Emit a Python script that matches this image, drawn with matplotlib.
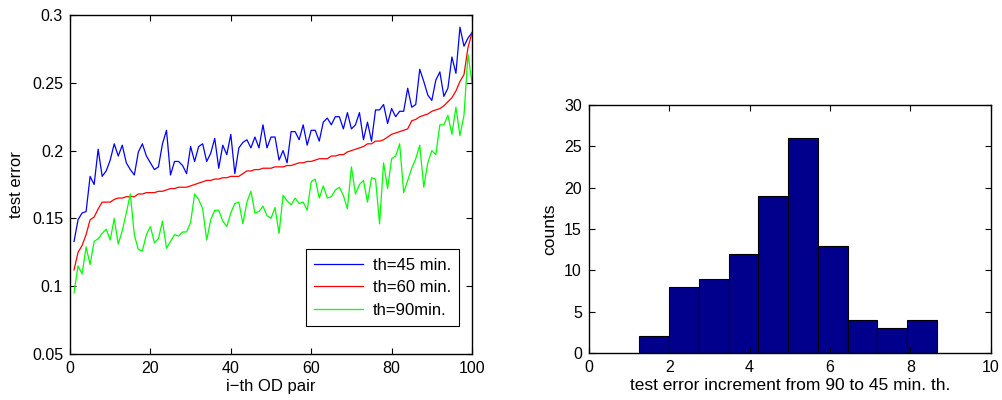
import numpy as np
import matplotlib
matplotlib.use("Agg")
import matplotlib.pyplot as plt

plt.rcParams['font.family'] = ['Liberation Sans', 'DejaVu Sans']

# test error per OD pair (left panel)
pair_idx = np.arange(1, 101)
err_45 = [0.133, 0.149, 0.154, 0.155, 0.181, 0.175, 0.201, 0.181, 0.185, 0.193,
          0.205, 0.196, 0.204, 0.191, 0.186, 0.182, 0.199, 0.205, 0.196, 0.191,
          0.186, 0.188, 0.205, 0.215, 0.182, 0.192, 0.192, 0.189, 0.183, 0.203,
          0.192, 0.203, 0.205, 0.192, 0.198, 0.209, 0.187, 0.204, 0.197, 0.212,
          0.183, 0.202, 0.206, 0.208, 0.202, 0.210, 0.202, 0.219, 0.202, 0.210,
          0.210, 0.193, 0.200, 0.191, 0.214, 0.214, 0.208, 0.219, 0.204, 0.215,
          0.215, 0.207, 0.221, 0.224, 0.219, 0.225, 0.225, 0.216, 0.228, 0.216,
          0.219, 0.228, 0.208, 0.221, 0.207, 0.230, 0.230, 0.234, 0.220, 0.231,
          0.225, 0.229, 0.229, 0.246, 0.232, 0.234, 0.260, 0.251, 0.241, 0.237,
          0.252, 0.258, 0.240, 0.246, 0.269, 0.257, 0.291, 0.277, 0.283, 0.287]
err_60 = [0.112, 0.125, 0.130, 0.138, 0.149, 0.151, 0.157, 0.162, 0.162, 0.162,
          0.164, 0.165, 0.165, 0.166, 0.166, 0.166, 0.168, 0.168, 0.169, 0.169,
          0.169, 0.170, 0.170, 0.171, 0.172, 0.172, 0.173, 0.173, 0.173, 0.174,
          0.175, 0.176, 0.177, 0.178, 0.178, 0.179, 0.179, 0.180, 0.180, 0.181,
          0.181, 0.181, 0.183, 0.185, 0.185, 0.186, 0.186, 0.187, 0.187, 0.187,
          0.188, 0.188, 0.188, 0.189, 0.189, 0.190, 0.191, 0.191, 0.192, 0.192,
          0.193, 0.194, 0.194, 0.194, 0.196, 0.196, 0.197, 0.197, 0.199, 0.200,
          0.201, 0.202, 0.203, 0.205, 0.205, 0.207, 0.207, 0.208, 0.210, 0.212,
          0.213, 0.214, 0.215, 0.216, 0.222, 0.223, 0.225, 0.226, 0.227, 0.229,
          0.230, 0.231, 0.233, 0.236, 0.239, 0.244, 0.251, 0.256, 0.276, 0.287]
err_90 = [0.095, 0.115, 0.109, 0.129, 0.116, 0.133, 0.135, 0.139, 0.142, 0.134,
          0.150, 0.131, 0.141, 0.154, 0.168, 0.138, 0.127, 0.126, 0.138, 0.144,
          0.132, 0.135, 0.148, 0.128, 0.133, 0.138, 0.137, 0.140, 0.140, 0.147,
          0.168, 0.164, 0.157, 0.134, 0.149, 0.156, 0.156, 0.148, 0.144, 0.154,
          0.161, 0.162, 0.146, 0.162, 0.170, 0.154, 0.155, 0.159, 0.152, 0.150,
          0.158, 0.139, 0.167, 0.163, 0.160, 0.165, 0.161, 0.162, 0.156, 0.177,
          0.179, 0.165, 0.174, 0.165, 0.166, 0.171, 0.173, 0.167, 0.157, 0.188,
          0.168, 0.175, 0.178, 0.162, 0.180, 0.179, 0.146, 0.191, 0.172, 0.194,
          0.196, 0.205, 0.169, 0.178, 0.187, 0.194, 0.204, 0.173, 0.191, 0.200,
          0.197, 0.219, 0.219, 0.226, 0.212, 0.232, 0.211, 0.226, 0.271, 0.250]

# histogram of error increment (right panel)
bin_edges = [1.25, 1.99, 2.73, 3.48, 4.22, 4.96, 5.70, 6.44, 7.18, 7.92, 8.66]
bin_counts = [2, 8, 9, 12, 19, 26, 13, 4, 3, 4]

fig = plt.figure(figsize=(10.03, 4), dpi=100)
ax1 = fig.add_axes([0.0698, 0.115, 0.4008, 0.8475])
ax2 = fig.add_axes([0.587, 0.1175, 0.4008, 0.62])

ax1.plot(pair_idx, err_45, color=(0, 0, 1), lw=0.9, label='th=45 min.')
ax1.plot(pair_idx, err_60, color=(1, 0, 0), lw=0.9, label='th=60 min.')
ax1.plot(pair_idx, err_90, color=(0, 1, 0), lw=0.9, label='th=90min.')
ax1.set_xlim(0, 100)
ax1.set_ylim(0.05, 0.3)
ax1.set_xticks([0, 20, 40, 60, 80, 100])
ax1.set_yticks([0.05, 0.1, 0.15, 0.2, 0.25, 0.3])
ax1.set_yticklabels(['0.05', '0.1', '0.15', '0.2', '0.25', '0.3'])
ax1.set_xlabel('i\u2212th OD pair', fontsize=12, labelpad=2)
ax1.set_ylabel('test error', fontsize=12, labelpad=6)
leg = ax1.legend(loc='lower right', bbox_to_anchor=(0.968, 0.083), fontsize=12,
                 fancybox=False, framealpha=1, edgecolor='black',
                 handlelength=2.9, handletextpad=0.6, borderpad=0.5,
                 labelspacing=0.45, borderaxespad=0)
leg.get_frame().set_linewidth(0.8)

ax2.bar(bin_edges[:-1], bin_counts, width=np.diff(bin_edges), align='edge',
        color=(0, 0, 0.55), edgecolor='black', linewidth=0.8)
ax2.set_xlim(0, 10)
ax2.set_ylim(0, 30)
ax2.set_xticks([0, 2, 4, 6, 8, 10])
ax2.set_yticks([0, 5, 10, 15, 20, 25, 30])
ax2.set_xlabel('test error increment from 90 to 45 min. th.', fontsize=12.5, labelpad=2)
ax2.set_ylabel('counts', fontsize=12.5, labelpad=5)

for ax in (ax1, ax2):
    ax.tick_params(direction='in', top=True, right=True, length=4, width=0.8,
                   labelsize=11.5, pad=5)
    for s in ax.spines.values():
        s.set_linewidth(1.0)

fig.savefig('out.png', dpi=100)
